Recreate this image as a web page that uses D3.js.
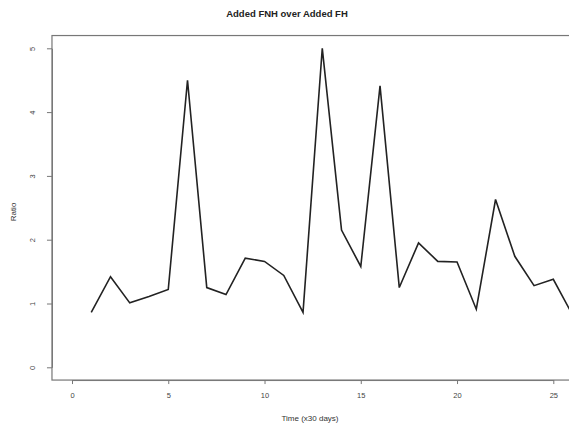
<!DOCTYPE html>
<html><head><meta charset="utf-8">
<script src="https://cdn.jsdelivr.net/npm/d3@7"></script>
<style>body{margin:0;background:#fff}svg{display:block}text{font-family:"Liberation Sans",Arial,sans-serif}</style>
</head><body>
<svg id="c" width="569" height="427"></svg>
<script>
const times = [1,2,3,4,5,6,7,8,9,10,11,12,13,14,15,16,17,18,19,20,21,22,23,24,25,26];
const ratios = [0.86,1.42,1.01,1.11,1.22,4.50,1.25,1.14,1.71,1.66,1.44,0.86,5.00,2.15,1.58,4.41,1.25,1.95,1.66,1.65,0.91,2.63,1.74,1.28,1.38,0.82];
const xTicks = [0,5,10,15,20,25];
const yTicks = [0,1,2,3,4,5];
const title = "Added FNH over Added FH";
const xLabel = "Time (x30 days)";
const yLabel = "Ratio";

const svg = d3.select("#c");
const x = d3.scaleLinear().domain([0,25]).range([72,553.3]);
const y = d3.scaleLinear().domain([0,5]).range([367.3,48.3]);
const x0 = x(-1.04), x1 = x(27.04), yTop = y(5.2), yBot = y(-0.2);

svg.append("rect").attr("x",x0).attr("y",yTop).attr("width",x1-x0).attr("height",yBot-yTop)
  .attr("fill","none").attr("stroke","#777").attr("stroke-width",1.2);

const line = d3.line().x((d,i)=>x(times[i])).y(d=>y(d));
svg.append("path").datum(ratios).attr("d",line).attr("fill","none")
  .attr("stroke","#222").attr("stroke-width",1.6).attr("stroke-linejoin","miter");

// x axis
const xa = svg.append("g").attr("transform",`translate(0,${yBot})`)
  .call(d3.axisBottom(x).tickValues(xTicks).tickFormat(d3.format("d")).tickSize(4).tickPadding(9).tickSizeOuter(0));
xa.select(".domain").attr("stroke","#777");
xa.selectAll(".tick line").attr("stroke","#777");
xa.selectAll("text").attr("font-size",7.5).attr("fill","#444").attr("font-family","Liberation Sans, Arial, sans-serif");

// y axis
const ya = svg.append("g").attr("transform",`translate(${x0},0)`)
  .call(d3.axisLeft(y).tickValues(yTicks).tickFormat(d3.format("d")).tickSize(5).tickSizeOuter(0));
ya.select(".domain").attr("stroke","#777");
ya.selectAll(".tick line").attr("stroke","#777");
ya.selectAll(".tick text").attr("transform","rotate(-90)").attr("x",0).attr("y",-20)
  .attr("text-anchor","middle").attr("dy","0.35em").attr("font-size",7.5).attr("fill","#444")
  .attr("font-family","Liberation Sans, Arial, sans-serif");

svg.append("text").attr("x",287).attr("y",17).attr("text-anchor","middle")
  .attr("font-size",9.5).attr("font-weight","bold").attr("fill","#222").text(title);
svg.append("text").attr("x",310).attr("y",421).attr("text-anchor","middle")
  .attr("font-size",8).attr("fill","#333").text(xLabel);
svg.append("text").attr("transform","translate(16,212) rotate(-90)").attr("text-anchor","middle")
  .attr("font-size",8).attr("fill","#333").text(yLabel);
</script>
</body></html>
